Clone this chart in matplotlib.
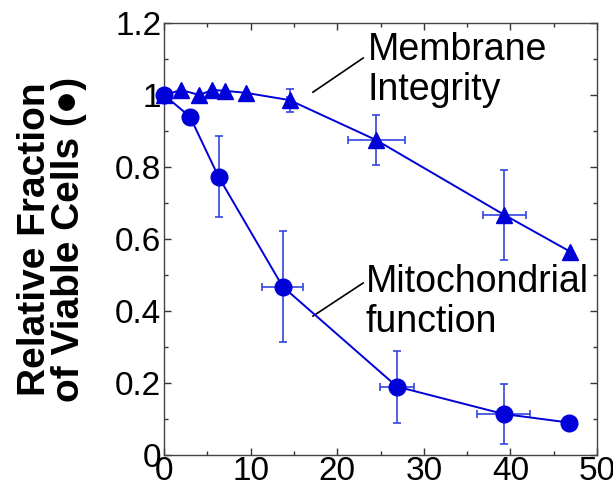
import numpy as np
import matplotlib.pyplot as plt
from matplotlib.ticker import MultipleLocator, FuncFormatter

plt.rcParams['font.family'] = ['Liberation Sans', 'DejaVu Sans']

# membrane integrity (triangles)
mem_x = [0, 2.0, 4.1, 5.5, 7.0, 9.5, 14.5, 24.5, 39.3, 46.9]
mem_y = [1.0, 1.014, 1.0, 1.014, 1.012, 1.006, 0.986, 0.875, 0.667, 0.565]
mem_xerr = [0, 0, 0, 0, 0, 0, 0.3, 3.3, 2.5, 0]
mem_yerr = [0, 0, 0, 0, 0, 0, 0.032, 0.07, 0.125, 0]

# mitochondrial function (circles)
mit_x = [0, 3.0, 6.3, 13.7, 26.9, 39.2, 46.8]
mit_y = [1.0, 0.94, 0.773, 0.468, 0.19, 0.114, 0.09]
mit_xerr = [0, 0, 0, 2.4, 2.0, 3.1, 0]
mit_yerr = [0, 0, 0.113, 0.153, 0.1, 0.083, 0]

blue = '#0000d8'
ebar = '#3344e0'

fig = plt.figure(figsize=(6.13, 4.91), dpi=100)
ax = fig.add_axes([0.2675, 0.0733, 0.7065, 0.8797])

ax.errorbar(mem_x, mem_y, xerr=mem_xerr, yerr=mem_yerr, fmt='none',
            ecolor=ebar, elinewidth=1.2, capsize=3, capthick=1.2, clip_on=False)
ax.errorbar(mit_x, mit_y, xerr=mit_xerr, yerr=mit_yerr, fmt='none',
            ecolor=ebar, elinewidth=1.2, capsize=3, capthick=1.2, clip_on=False)
ax.plot(mem_x, mem_y, '-^', color=blue, lw=1.4, ms=11, clip_on=False, zorder=3)
ax.plot(mit_x, mit_y, '-o', color=blue, lw=1.4, ms=12, clip_on=False, zorder=4)

ax.set_xlim(0, 50)
ax.set_ylim(0, 1.2)
ax.xaxis.set_major_locator(MultipleLocator(10))
ax.xaxis.set_minor_locator(MultipleLocator(5))
ax.yaxis.set_major_locator(MultipleLocator(0.2))
ax.yaxis.set_minor_locator(MultipleLocator(0.1))
ax.yaxis.set_major_formatter(FuncFormatter(lambda v, p: '%g' % round(v, 2)))
ax.tick_params(which='both', direction='in', top=True, right=True,
               color='#333333', labelsize=24)
ax.tick_params(which='major', length=5, width=1)
ax.tick_params(which='minor', length=3, width=1)
ax.tick_params(axis='x', pad=1)
ax.tick_params(axis='y', pad=2)
for s in ax.spines.values():
    s.set_color('#444444')
    s.set_linewidth(1)

ax.set_ylabel('Relative Fraction\nof Viable Cells (\u25cf)', fontsize=28,
              fontweight='bold', labelpad=20, linespacing=0.92)

ax.text(23.5, 1.175, 'Membrane\nIntegrity', fontsize=27, va='top',
        ha='left', linespacing=1.15)
ax.plot([23.0, 17.2], [1.103, 1.008], color='black', lw=1.2)
ax.text(23.3, 0.53, 'Mitochondrial\nfunction', fontsize=27, va='top',
        ha='left', linespacing=1.15)
ax.plot([23.0, 17.2], [0.478, 0.386], color='black', lw=1.2)

fig.savefig('out.png', dpi=100)
